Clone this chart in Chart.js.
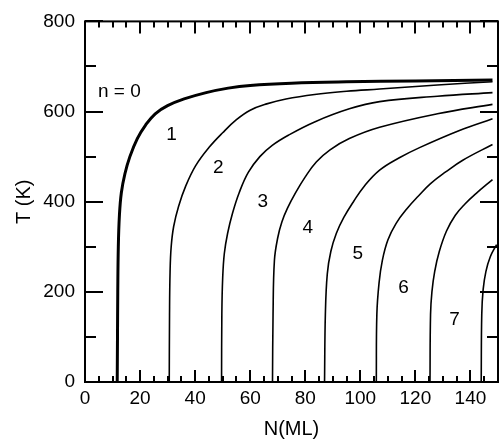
<!DOCTYPE html>
<html><head><meta charset="utf-8">
<script src="https://cdn.jsdelivr.net/npm/chart.js@4.4.0/dist/chart.umd.min.js"></script>
<style>html,body{margin:0;padding:0;background:#fff;}#wrap{width:503px;height:442px;}</style>
</head><body><div id="wrap"><canvas id="c" width="503" height="442"></canvas></div>
<script>
// ---- data (N in ML, T in K) ----
const curveN0 = [[11.7,0],[11.8,100],[11.9,200],[12.1,300],[12.5,370],[13.2,420],[14.5,462],[16.3,500],[19,540],[22,570],[25.5,595],[30,613],[36,628],[44,642],[52,652],[60,658],[75,663],[95,666],[120,668],[148,670]];
const curveN1 = [[30.6,0],[30.7,150],[30.9,245],[31.3,300],[32.2,345],[34.0,390],[36.6,435],[40.2,480],[45,520],[50,553],[55,582],[60,603],[66,617],[73,628],[83.4,638],[95,645],[107,650],[128,659],[148,666]];
const curveN2 = [[49.6,0],[49.7,150],[50.0,230],[50.6,285],[51.8,330],[53.6,375],[56,420],[59.3,465],[63.5,500],[68,525],[74,548],[83.4,577],[96,606],[107,622],[128,634],[148,642]];
const curveN3 = [[68.1,0],[68.3,150],[68.8,270],[70,320],[71.5,355],[73.5,385],[76.5,420],[80,455],[84,488],[89,515],[96,540],[107,565],[128,595],[148,616]];
const curveN4 = [[87,0],[87.3,150],[88,240],[89.3,290],[91.3,330],[94,365],[97.5,400],[101.5,435],[107,470],[114,497],[121.5,520],[136,558],[148,584]];
const curveN5 = [[105.8,0],[106,150],[106.8,220],[108,270],[110,315],[113,352],[117,385],[121,412],[125.5,440],[131,466],[137.2,492],[148,527]];
const curveN6 = [[125.3,0],[125.5,150],[126,200],[127,245],[128.7,290],[131.3,335],[134.5,370],[138,395],[142,418],[148,449]];
const curveN7 = [[143.9,0],[144.1,150],[144.6,205],[145.6,245],[147.2,278],[149.5,305]];
const curves = [curveN0, curveN1, curveN2, curveN3, curveN4, curveN5, curveN6, curveN7];
const curveWidths = [3, 1.6, 1.6, 1.6, 1.6, 1.6, 1.6, 1.6];

const labelText = ['n = 0','1','2','3','4','5','6','7'];
const labelN = [12.5, 31.4, 48.4, 64.6, 80.9, 99.1, 115.7, 134.2];
const labelT = [643, 549, 476, 400, 343, 285, 208, 139];

const xTickValues = [0,20,40,60,80,100,120,140];
const yTickValues = [0,200,400,600,800];
const xRange = [0,150];
const yRange = [0,800];

// ---- plugins ----
const FONT = '"Liberation Sans", Arial, Helvetica, sans-serif';
const frameTicks = {
  id:'frameTicks',
  afterDraw(chart){
    const {ctx, chartArea:a, scales:{x,y}} = chart;
    ctx.save();
    ctx.strokeStyle='#000';
    ctx.lineWidth=2;
    ctx.beginPath();
    for(let v=xRange[0]; v<=xRange[1]; v+=5){
      const px=Math.round(x.getPixelForValue(v));
      const len=(v%20===0)?12:6;
      ctx.moveTo(px,a.bottom); ctx.lineTo(px,a.bottom-len);
      ctx.moveTo(px,a.top); ctx.lineTo(px,a.top+len);
    }
    for(let v=yRange[0]; v<=yRange[1]; v+=100){
      const py=Math.round(y.getPixelForValue(v));
      const len=(v%200===0)?18:11;
      ctx.moveTo(a.left,py); ctx.lineTo(a.left+len,py);
      ctx.moveTo(a.right,py); ctx.lineTo(a.right-len,py);
    }
    ctx.stroke();
    ctx.strokeRect(a.left,a.top,a.right-a.left,a.bottom-a.top);
    ctx.fillStyle='#000';
    ctx.font='19px '+FONT;
    ctx.textAlign='center';
    ctx.textBaseline='middle';
    labelText.forEach((t,i)=>{
      ctx.fillText(t, x.getPixelForValue(labelN[i]), y.getPixelForValue(labelT[i]));
    });
    ctx.restore();
  }
};

const datasets = curves.map((c,i)=>({
  label: labelText[i],
  data: c.map(p=>({x:p[0], y:p[1]})),
  borderColor:'#000',
  borderWidth: curveWidths[i],
  pointRadius:0,
  showLine:true,
  fill:false,
  tension:0.4
}));

new Chart(document.getElementById('c'), {
  type:'scatter',
  data:{datasets},
  options:{
    responsive:false,
    animation:false,
    devicePixelRatio:1,
    layout:{padding:{left:0,top:16,right:5,bottom:0}},
    plugins:{legend:{display:false}, tooltip:{enabled:false}},
    scales:{
      x:{
        type:'linear', position:'bottom', min:xRange[0], max:xRange[1],
        grid:{display:false, drawTicks:false}, border:{display:false},
        afterBuildTicks:s=>{ s.ticks = xTickValues.map(v=>({value:v})); },
        afterFit:s=>{ s.height=60; },
        ticks:{color:'#000', font:{family:FONT,size:19}, padding:5, maxRotation:0, autoSkip:false},
        title:{display:true, text:'N(ML)', color:'#000', font:{family:FONT,size:20}, padding:{top:0,bottom:1}}
      },
      y:{
        type:'linear', position:'left', min:yRange[0], max:yRange[1],
        grid:{display:false, drawTicks:false}, border:{display:false},
        afterBuildTicks:s=>{ s.ticks = yTickValues.map(v=>({value:v})); },
        afterFit:s=>{ s.width=85; },
        ticks:{color:'#000', font:{family:FONT,size:19}, padding:10, autoSkip:false},
        title:{display:true, text:'T (K)', color:'#000', font:{family:FONT,size:20}, padding:{top:12,bottom:0}}
      }
    }
  },
  plugins:[frameTicks]
});
</script></body></html>
